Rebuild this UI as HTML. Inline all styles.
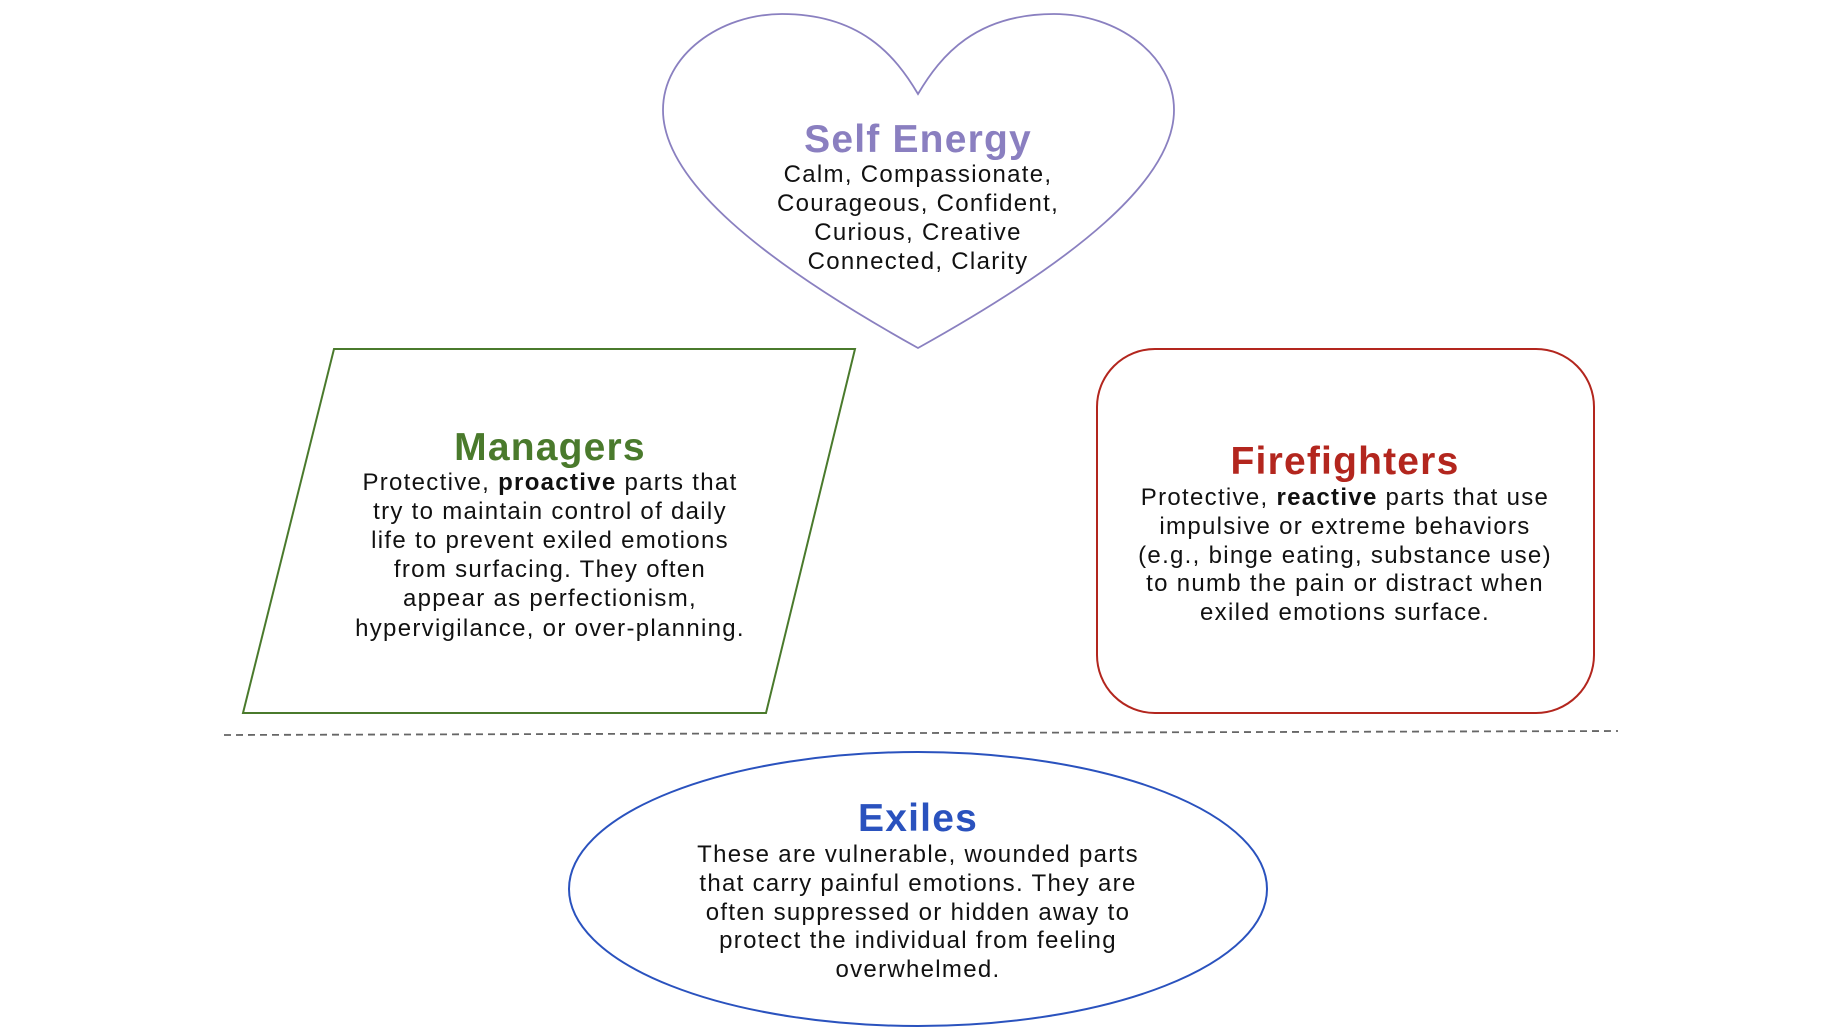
<!DOCTYPE html>
<html><head><meta charset="utf-8"><style>
html,body{margin:0;padding:0;background:#fff;}
svg{display:block}
text{font-family:"Liberation Sans",sans-serif;text-anchor:middle;fill:#111;}
.b{font-size:24px;letter-spacing:1.3px}
.t{font-size:39px;font-weight:bold;letter-spacing:1.2px}
</style></head><body>
<svg width="1830" height="1034" viewBox="0 0 1830 1034" xmlns="http://www.w3.org/2000/svg">
<path d="M918,94 C895,55 860,14 782,14 C720,14 663,55 663,110 C663,180 760,260 918,348 C1076,260 1174,180 1174,110 C1174,55 1117,14 1054,14 C976,14 941,55 918,94 Z" fill="none" stroke="#8a80c0" stroke-width="1.8"/>
<text class="t" x="918" y="152" style="fill:#8a7fc0">Self Energy</text>
<text class="b" x="918" y="182">Calm, Compassionate,</text>
<text class="b" x="918" y="211">Courageous, Confident,</text>
<text class="b" x="918" y="240">Curious, Creative</text>
<text class="b" x="918" y="269">Connected, Clarity</text>

<polygon points="334,349 855,349 766,713 243,713" fill="none" stroke="#4a7a2c" stroke-width="2"/>
<text class="t" x="550" y="460" style="fill:#4a7a2c">Managers</text>
<text class="b" x="550" y="490">Protective, <tspan font-weight="bold">proactive</tspan> parts that</text>
<text class="b" x="550" y="519">try to maintain control of daily</text>
<text class="b" x="550" y="548">life to prevent exiled emotions</text>
<text class="b" x="550" y="577">from surfacing. They often</text>
<text class="b" x="550" y="606">appear as perfectionism,</text>
<text class="b" x="550" y="636">hypervigilance, or over-planning.</text>

<rect x="1097" y="349" width="497" height="364" rx="58" ry="58" fill="none" stroke="#b3261e" stroke-width="2"/>
<text class="t" x="1345" y="474" style="fill:#b3261e">Firefighters</text>
<text class="b" x="1345" y="505">Protective, <tspan font-weight="bold">reactive</tspan> parts that use</text>
<text class="b" x="1345" y="534">impulsive or extreme behaviors</text>
<text class="b" x="1345" y="563">(e.g., binge eating, substance use)</text>
<text class="b" x="1345" y="591">to numb the pain or distract when</text>
<text class="b" x="1345" y="620">exiled emotions surface.</text>

<line x1="224" y1="735" x2="1618" y2="731" stroke="#666" stroke-width="1.8" stroke-dasharray="7,5"/>

<ellipse cx="918" cy="889" rx="349" ry="137" fill="none" stroke="#2a52be" stroke-width="2"/>
<text class="t" x="918" y="831" style="fill:#2a52be">Exiles</text>
<text class="b" x="918" y="862">These are vulnerable, wounded parts</text>
<text class="b" x="918" y="891">that carry painful emotions. They are</text>
<text class="b" x="918" y="920">often suppressed or hidden away to</text>
<text class="b" x="918" y="948">protect the individual from feeling</text>
<text class="b" x="918" y="977">overwhelmed.</text>
</svg>
</body></html>
